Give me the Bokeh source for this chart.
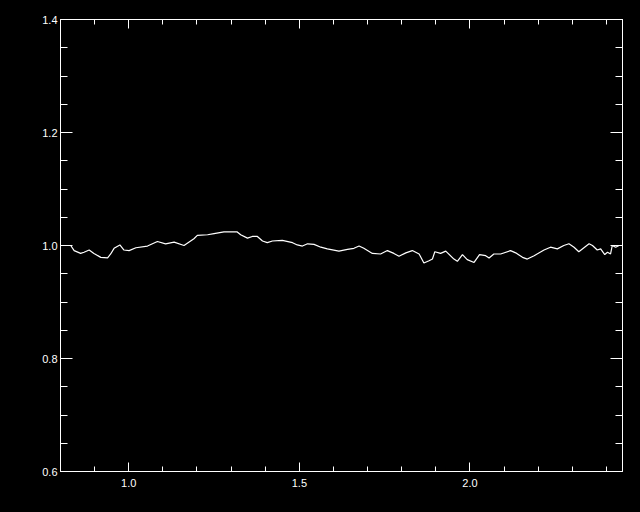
from bokeh.plotting import figure
from bokeh.models import (Range1d, FixedTicker, LinearAxis, PrintfTickFormatter,
                          CustomJSTickFormatter, GlobalInlineStyleSheet)
from bokeh.embed import file_html
from bokeh.resources import INLINE

# ---- data ----
wavelength = [0.800, 0.830, 0.840, 0.859, 0.869, 0.884, 0.898, 0.918, 0.938, 0.947,
              0.957, 0.974, 0.986, 1.001, 1.021, 1.055, 1.084, 1.108, 1.133, 1.162,
              1.191, 1.201, 1.231, 1.250, 1.279, 1.299, 1.318, 1.328, 1.348, 1.362,
              1.377, 1.392, 1.406, 1.421, 1.450, 1.480, 1.494, 1.509, 1.524, 1.543,
              1.563, 1.582, 1.616, 1.641, 1.660, 1.675, 1.689, 1.714, 1.738, 1.758,
              1.777, 1.792, 1.812, 1.831, 1.851, 1.865, 1.880, 1.890, 1.897, 1.914,
              1.929, 1.953, 1.963, 1.978, 1.992, 2.012, 2.028, 2.046, 2.056, 2.070,
              2.090, 2.119, 2.134, 2.154, 2.168, 2.188, 2.217, 2.236, 2.256, 2.275,
              2.290, 2.305, 2.319, 2.334, 2.349, 2.359, 2.373, 2.383, 2.395, 2.403,
              2.412, 2.417, 2.427, 2.437, 2.447]
ratio = [1.000, 1.000, 0.991, 0.986, 0.988, 0.992, 0.986, 0.979, 0.978, 0.985,
         0.995, 1.001, 0.992, 0.991, 0.996, 0.999, 1.007, 1.003, 1.006, 1.000,
         1.012, 1.018, 1.019, 1.021, 1.024, 1.024, 1.024, 1.019, 1.013, 1.016,
         1.016, 1.008, 1.005, 1.008, 1.009, 1.005, 1.001, 0.999, 1.003, 1.002,
         0.997, 0.994, 0.990, 0.993, 0.995, 0.999, 0.995, 0.986, 0.985, 0.991,
         0.986, 0.981, 0.987, 0.991, 0.985, 0.969, 0.973, 0.976, 0.989, 0.986,
         0.990, 0.976, 0.972, 0.984, 0.975, 0.970, 0.984, 0.982, 0.978, 0.985,
         0.985, 0.991, 0.987, 0.979, 0.976, 0.982, 0.992, 0.997, 0.994, 1.000,
         1.003, 0.997, 0.989, 0.996, 1.003, 1.000, 0.992, 0.994, 0.984, 0.988,
         0.985, 1.000, 0.997, 1.000, 1.000]

x_limits = (0.8, 2.447)
y_limits = (0.6, 1.4)
x_major_ticks = [1.0, 1.5, 2.0]
x_minor_ticks = [0.8, 0.9, 1.0, 1.1, 1.2, 1.3, 1.4, 1.5, 1.6, 1.7, 1.8, 1.9,
                 2.0, 2.1, 2.2, 2.3, 2.4]
y_major_ticks = [0.6, 0.8, 1.0, 1.2, 1.4]
y_minor_ticks = [0.6, 0.65, 0.7, 0.75, 0.8, 0.85, 0.9, 0.95, 1.0, 1.05, 1.1,
                 1.15, 1.2, 1.25, 1.3, 1.35, 1.4]

FONT = "Liberation Sans"
FG = "white"

p = figure(width=624, height=496, output_backend="svg", toolbar_location=None,
           x_range=Range1d(*x_limits), y_range=Range1d(*y_limits),
           min_border_left=60, min_border_right=2, min_border_top=19,
           min_border_bottom=25)
p.stylesheets = [GlobalInlineStyleSheet(css="html,body{margin:0;padding:0;background:#000;}")]
p.background_fill_color = "black"
p.border_fill_color = "black"
p.outline_line_color = FG
p.outline_line_width = 1
p.xgrid.visible = False
p.ygrid.visible = False

xt = FixedTicker(ticks=x_major_ticks, minor_ticks=x_minor_ticks)
yt = FixedTicker(ticks=y_major_ticks, minor_ticks=y_minor_ticks)


def style(ax, tick_in, minor_in):
    ax.axis_line_color = FG
    ax.major_tick_line_color = FG
    ax.minor_tick_line_color = FG
    ax.major_tick_in = tick_in
    ax.major_tick_out = 0
    ax.minor_tick_in = minor_in
    ax.minor_tick_out = 0
    ax.major_label_text_color = FG
    ax.major_label_text_font = FONT
    ax.major_label_text_font_size = "11px"


xa = p.xaxis[0]
xa.ticker = xt
xa.formatter = PrintfTickFormatter(format="%.1f")
style(xa, 9, 5)
xa.major_label_standoff = 7

ya = p.yaxis[0]
ya.ticker = yt
ya.formatter = PrintfTickFormatter(format="%.1f")
style(ya, 12, 7)
ya.major_label_standoff = 3

blank = "return ''"
top = LinearAxis(ticker=xt, formatter=CustomJSTickFormatter(code=blank))
style(top, 9, 5)
top.major_label_standoff = 0
top.major_label_text_font_size = "1px"
p.add_layout(top, "above")

right = LinearAxis(ticker=yt, formatter=CustomJSTickFormatter(code=blank))
style(right, 12, 7)
right.major_label_standoff = 0
right.major_label_text_font_size = "1px"
p.add_layout(right, "right")

p.line(wavelength, ratio, line_color=FG, line_width=1.2)

open("out.html", "w").write(file_html(p, INLINE))
